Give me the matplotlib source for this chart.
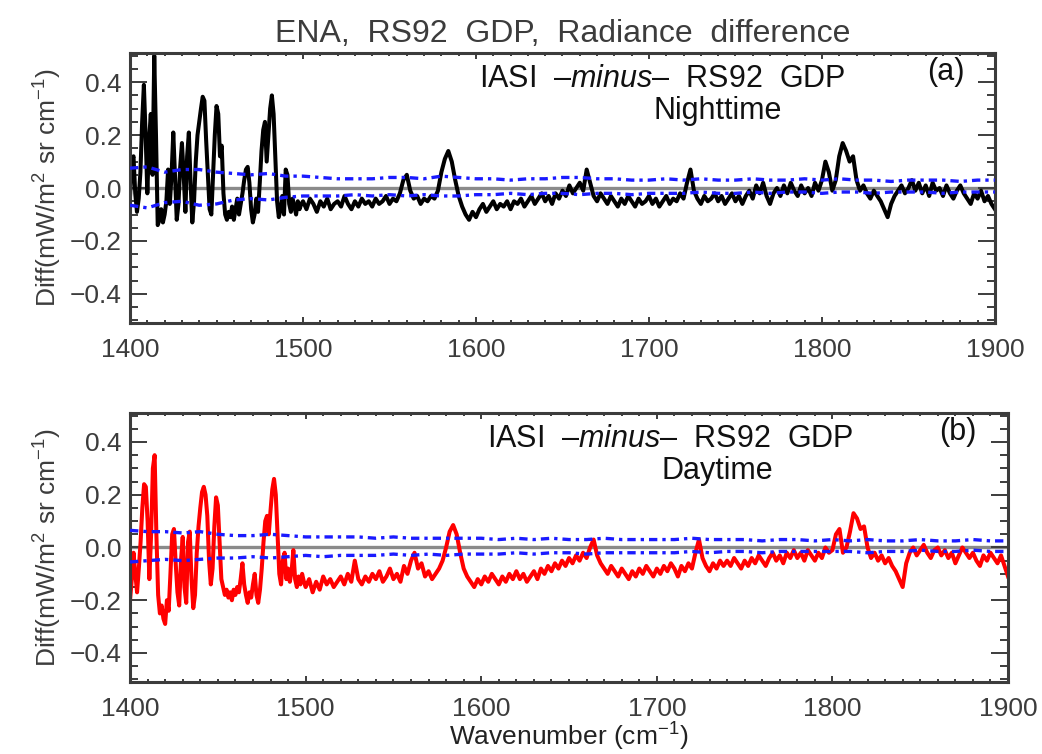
import numpy as np
import matplotlib
matplotlib.use("Agg")
import matplotlib.pyplot as plt
from matplotlib.ticker import MultipleLocator

plt.rcParams['font.family'] = ['Liberation Sans', 'DejaVu Sans']
plt.rcParams['mathtext.fontset'] = 'custom'
plt.rcParams['mathtext.rm'] = 'Liberation Sans'
plt.rcParams['mathtext.it'] = 'Liberation Sans:italic'

#grade espectral: 1 cm-1 ate 1500, 2 cm-1 depois
wn_fino = np.arange(1400, 1500)
wn_grosso = np.arange(1500, 1901, 2)
wn_incerteza = np.arange(1400, 1901, 10)

#(a) noite
noite_fino = [
    -0.03, 0.10, 0.12, -0.02, -0.09, -0.04, 0.06, 0.25, 0.39, 0.20,
    -0.02, 0.18, 0.28, 0.05, 0.50, 0.20, -0.14, -0.12, -0.08, -0.13,
    -0.10, -0.05, 0.07, -0.06, 0.05, 0.21, 0.05, -0.12, -0.06, 0.08,
    0.17, 0.05, -0.09, 0.12, 0.21, 0.02, -0.13, -0.05, 0.10, 0.20,
    0.25, 0.30, 0.345, 0.33, 0.18, 0.05, -0.08, -0.10, 0.05, 0.20,
    0.31, 0.28, 0.12, 0.16, -0.02, -0.10, -0.12, -0.09, -0.11, -0.07,
    -0.12, -0.08, -0.04, -0.10, -0.06, -0.02, 0.03, 0.07, 0.08, 0.02,
    -0.08, -0.13, -0.10, -0.04, -0.09, 0.02, 0.14, 0.22, 0.25, 0.10,
    0.20, 0.30, 0.35, 0.28, 0.12, -0.05, -0.11, -0.08, -0.03, -0.10,
    0.07, 0.05, -0.06, -0.09, -0.04, -0.07, -0.10, -0.05, -0.08, -0.06,
]
noite_grosso = [
    -0.05, -0.08, -0.04, -0.06, -0.09, -0.05, -0.07, -0.04, -0.08, -0.06,
    -0.05, -0.07, -0.03, -0.06, -0.08, -0.05, -0.07, -0.04, -0.06, -0.05,
    -0.07, -0.04, -0.06, -0.05, -0.03, -0.06, -0.04, -0.05, -0.02, 0.03,
    0.05, -0.01, -0.04, -0.03, -0.06, -0.04, -0.05, -0.03, -0.04, -0.01,
    0.06, 0.11, 0.14, 0.10, 0.03, -0.03, -0.07, -0.10, -0.12, -0.09,
    -0.11, -0.08, -0.06, -0.09, -0.07, -0.05, -0.08, -0.06, -0.07, -0.05,
    -0.08, -0.05, -0.06, -0.04, -0.07, -0.05, -0.03, -0.06, -0.04, -0.02,
    -0.05, -0.03, -0.06, -0.02, -0.04, -0.01, -0.03, 0.01, -0.02, 0.00,
    0.02, -0.01, 0.07, 0.02, -0.03, -0.05, -0.02, -0.04, -0.06, -0.03,
    -0.05, -0.07, -0.04, -0.06, -0.03, -0.05, -0.07, -0.04, -0.06, -0.05,
    -0.03, -0.06, -0.04, -0.07, -0.05, -0.03, -0.06, -0.04, -0.05, -0.02,
    -0.04, 0.02, 0.07, -0.01, -0.04, -0.06, -0.03, -0.05, -0.04, -0.02,
    -0.05, -0.03, -0.06, -0.04, -0.02, -0.05, -0.03, -0.06, -0.03, -0.01,
    -0.04, 0.01, -0.02, 0.02, -0.03, -0.06, -0.02, 0.00, -0.03, 0.01,
    -0.02, 0.02, -0.01, -0.03, 0.01, -0.02, 0.00, -0.03, 0.02, -0.01,
    0.03, 0.10, 0.06, -0.01, 0.03, 0.12, 0.17, 0.14, 0.10, 0.12,
    0.03, -0.01, 0.01, -0.02, -0.04, -0.01, -0.03, -0.05, -0.08, -0.11,
    -0.06, -0.03, -0.01, 0.01, -0.02, 0.00, 0.03, -0.01, 0.02, -0.02,
    0.01, -0.03, 0.02, -0.01, 0.00, -0.03, 0.01, -0.02, -0.04, -0.01,
    0.01, -0.02, -0.04, -0.06, -0.02, -0.04, -0.01, -0.05, -0.03, -0.06,
    -0.08,
]
noite_sup = [
    0.075, 0.08, 0.06, 0.07, 0.07, 0.06, 0.055, 0.05, 0.055, 0.045,
    0.045, 0.04, 0.035, 0.035, 0.035, 0.04, 0.04, 0.035, 0.045, 0.04,
    0.035, 0.035, 0.03, 0.035, 0.035, 0.04, 0.04, 0.035, 0.035, 0.03,
    0.03, 0.035, 0.03, 0.035, 0.03, 0.03, 0.035, 0.03, 0.03, 0.035,
    0.03, 0.035, 0.03, 0.03, 0.025, 0.03, 0.03, 0.03, 0.025, 0.03,
    0.03,
]
noite_inf = [
    -0.065, -0.075, -0.055, -0.05, -0.065, -0.06, -0.045, -0.04, -0.045, -0.035,
    -0.03, -0.03, -0.03, -0.025, -0.03, -0.025, -0.03, -0.025, -0.03, -0.03,
    -0.025, -0.025, -0.02, -0.025, -0.02, -0.02, -0.025, -0.02, -0.02, -0.025,
    -0.02, -0.02, -0.02, -0.015, -0.02, -0.02, -0.015, -0.02, -0.015, -0.015,
    -0.02, -0.015, -0.015, -0.02, -0.015, -0.015, -0.015, -0.02, -0.015, -0.015,
    -0.015,
]

#(b) dia
dia_fino = [
    -0.20, -0.12, -0.02, -0.10, -0.17, -0.08, 0.02, 0.15, 0.24, 0.23,
    0.10, -0.12, 0.05, 0.30, 0.35, 0.05, -0.18, -0.25, -0.22, -0.27,
    -0.29, -0.20, -0.24, -0.10, 0.05, 0.07, -0.06, -0.17, -0.22, -0.05,
    0.04, -0.15, -0.21, 0.02, 0.06, -0.12, -0.23, -0.18, -0.02, 0.08,
    0.15, 0.21, 0.23, 0.20, 0.12, -0.05, -0.14, -0.08, 0.08, 0.19,
    0.16, 0.02, -0.12, -0.15, -0.18, -0.16, -0.19, -0.17, -0.20, -0.16,
    -0.18, -0.15, -0.17, -0.12, -0.06, -0.14, -0.18, -0.21, -0.17, -0.19,
    -0.14, -0.10, -0.18, -0.21, -0.16, -0.08, 0.02, 0.10, 0.12, 0.05,
    0.14, 0.22, 0.26, 0.20, 0.05, -0.10, -0.14, -0.05, -0.02, -0.12,
    -0.08, -0.13, -0.09, -0.01, -0.12, -0.15, -0.11, -0.14, -0.10, -0.13,
]
dia_grosso = [
    -0.15, -0.12, -0.17, -0.13, -0.16, -0.11, -0.14, -0.12, -0.15, -0.13,
    -0.11, -0.14, -0.10, -0.13, -0.05, -0.12, -0.14, -0.11, -0.13, -0.10,
    -0.12, -0.09, -0.13, -0.11, -0.08, -0.12, -0.10, -0.13, -0.07, -0.10,
    -0.05, -0.02, -0.08, -0.06, -0.11, -0.09, -0.12, -0.10, -0.08, -0.05,
    0.00, 0.06, 0.085, 0.05, -0.02, -0.08, -0.11, -0.13, -0.15, -0.12,
    -0.14, -0.11, -0.13, -0.10, -0.12, -0.14, -0.11, -0.13, -0.10, -0.12,
    -0.09, -0.12, -0.10, -0.13, -0.11, -0.09, -0.12, -0.08, -0.10, -0.07,
    -0.09, -0.06, -0.08, -0.05, -0.07, -0.04, -0.06, -0.03, -0.05, -0.02,
    -0.04, 0.00, 0.03, -0.03, -0.06, -0.08, -0.10, -0.07, -0.09, -0.11,
    -0.08, -0.10, -0.12, -0.09, -0.11, -0.08, -0.10, -0.07, -0.09, -0.11,
    -0.08, -0.10, -0.07, -0.09, -0.06, -0.08, -0.11, -0.07, -0.09, -0.06,
    -0.08, -0.02, 0.03, -0.04, -0.07, -0.09, -0.06, -0.08, -0.05, -0.07,
    -0.05, -0.07, -0.04, -0.06, -0.08, -0.05, -0.07, -0.04, -0.06, -0.03,
    -0.05, -0.07, -0.04, -0.02, -0.05, -0.03, -0.06, -0.02, -0.04, -0.01,
    -0.04, -0.02, -0.05, -0.01, -0.03, -0.05, -0.02, -0.04, 0.00, -0.02,
    -0.01, 0.05, 0.07, -0.02, 0.00, 0.06, 0.13, 0.11, 0.07, 0.08,
    0.00, -0.04, -0.02, -0.05, -0.03, -0.06, -0.04, -0.07, -0.09, -0.12,
    -0.15, -0.06, -0.02, 0.00, -0.03, -0.01, 0.01, -0.02, -0.04, -0.01,
    0.00, -0.03, -0.01, -0.04, -0.02, -0.06, -0.03, 0.00, -0.02, -0.04,
    -0.02, -0.05, -0.07, -0.03, -0.05, -0.02, -0.04, -0.06, -0.03, -0.07,
    -0.11,
]
dia_sup = [
    0.065, 0.06, 0.06, 0.055, 0.06, 0.05, 0.045, 0.045, 0.05, 0.045,
    0.04, 0.04, 0.04, 0.04, 0.035, 0.04, 0.035, 0.035, 0.035, 0.035,
    0.035, 0.03, 0.035, 0.03, 0.035, 0.03, 0.03, 0.035, 0.03, 0.03,
    0.03, 0.03, 0.035, 0.03, 0.03, 0.03, 0.025, 0.03, 0.03, 0.025,
    0.03, 0.025, 0.03, 0.025, 0.025, 0.03, 0.025, 0.025, 0.03, 0.025,
    0.025,
]
dia_inf = [
    -0.055, -0.05, -0.045, -0.05, -0.045, -0.04, -0.04, -0.035, -0.04, -0.035,
    -0.03, -0.035, -0.03, -0.03, -0.03, -0.025, -0.03, -0.025, -0.03, -0.025,
    -0.025, -0.025, -0.02, -0.025, -0.02, -0.02, -0.025, -0.02, -0.02, -0.02,
    -0.02, -0.02, -0.015, -0.02, -0.015, -0.015, -0.02, -0.015, -0.015, -0.015,
    -0.015, -0.015, -0.02, -0.015, -0.015, -0.01, -0.015, -0.015, -0.01, -0.015,
    -0.015,
]

wn = np.concatenate([wn_fino, wn_grosso])
noite = np.concatenate([noite_fino, noite_grosso])
dia = np.concatenate([dia_fino, dia_grosso])

cinza = '#3c3c3c'

def getPainel(ax, valores, cor, sup, inf, periodo, letra, x_periodo):
    ax.axhline(0, color='#8a8a8a', lw=2.4, zorder=1)
    ax.plot(wn, valores, color=cor, lw=2.9, zorder=2)
    ax.plot(wn_incerteza, sup, color='#1a1aff', lw=2.4, ls=(0, (2.5, 1.5, 1, 1.5)), zorder=3)
    ax.plot(wn_incerteza, inf, color='#1a1aff', lw=2.4, ls=(0, (2.5, 1.5, 1, 1.5)), zorder=3)
    ax.set_xlim(1400, 1900)
    ax.set_ylim(-0.51, 0.51)
    ax.xaxis.set_major_locator(MultipleLocator(100))
    ax.xaxis.set_minor_locator(MultipleLocator(10))
    ax.yaxis.set_major_locator(MultipleLocator(0.2))
    ax.yaxis.set_minor_locator(MultipleLocator(0.05))
    ax.yaxis.set_major_formatter(lambda v, p: f"{v:.1f}".replace('-', '\u2212'))
    ax.tick_params(axis='both', which='both', direction='in', colors=cinza,
                   top=True, right=True, labelsize=19, width=1.4)
    ax.tick_params(axis='y', which='major', length=12, pad=6)
    ax.tick_params(axis='y', which='minor', length=6)
    ax.tick_params(axis='x', which='major', length=4, pad=11)
    ax.tick_params(axis='x', which='minor', length=2)
    for lado in ax.spines.values():
        lado.set_color(cinza)
        lado.set_linewidth(2.2)
    ax.set_ylabel(r"Diff(mW/m$^2$ sr cm$^{-1}$)", fontsize=19, color=cinza, labelpad=4)
    ax.text(0.615, 0.905, "IASI  \u2013$\\mathit{minus}$\u2013  RS92  GDP", transform=ax.transAxes,
            ha='center', va='center', fontsize=22, color='#111111')
    ax.text(x_periodo, 0.785, periodo, transform=ax.transAxes,
            ha='center', va='center', fontsize=22, color='#111111')
    ax.text(0.943, 0.93, letra, transform=ax.transAxes,
            ha='center', va='center', fontsize=22, color='#111111')

fig = plt.figure(figsize=(10.42, 7.54), dpi=100)
ax_a = fig.add_axes([0.1248, 0.5716, 0.830, 0.358])
ax_b = fig.add_axes([0.1248, 0.0955, 0.8426, 0.3568])

getPainel(ax_a, noite, 'black', noite_sup, noite_inf, "Nighttime", "(a)", 0.679)
getPainel(ax_b, dia, '#ff0000', dia_sup, dia_inf, "Daytime", "(b)", 0.669)

ax_a.set_title("ENA,  RS92  GDP,  Radiance  difference", fontsize=23, color=cinza, pad=8)
ax_b.set_xlabel(r"Wavenumber (cm$^{-1}$)", fontsize=19, color='#222222', labelpad=0)

plt.savefig("out.png", dpi=100)
